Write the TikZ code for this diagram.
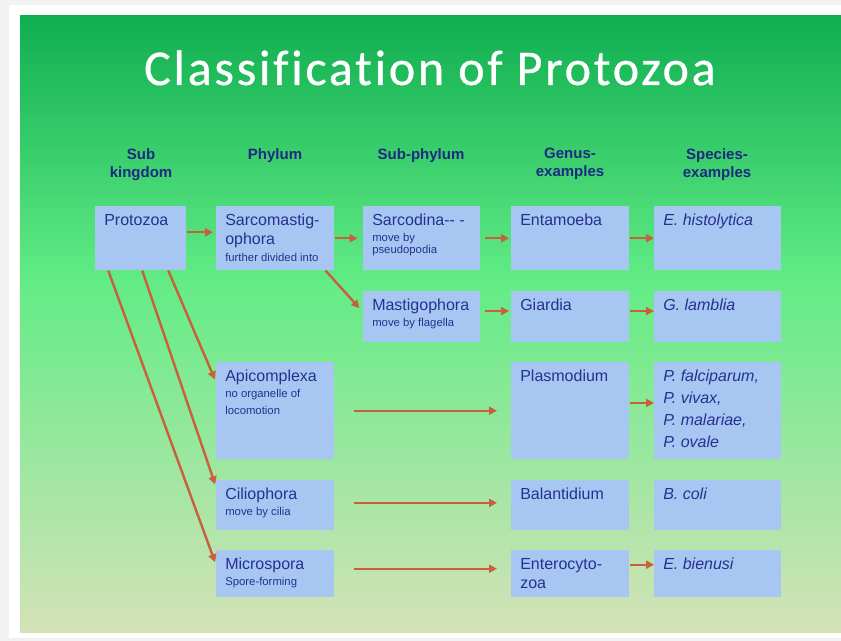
\documentclass[tikz,border=0pt]{standalone}
\usepackage{fontspec}
\setmainfont{Liberation Sans}
\newfontfamily\titlefont[LetterSpace=5.5, FakeBold=0.6, Ligatures=NoCommon]{Carlito}
\usetikzlibrary{arrows.meta}

\definecolor{cellblue}{HTML}{A8C6F2}
\definecolor{txtblue}{HTML}{26318F}
\definecolor{hdrblue}{HTML}{1C2A80}
\definecolor{arrred}{HTML}{C8603C}
\definecolor{topgreen}{HTML}{0FAE50}
\definecolor{midgreen}{HTML}{62EC86}
\definecolor{lowgreen}{HTML}{D4E2B8}

\newdimen\pxunit \pxunit=0.75pt
\newcommand{\cellbox}[3]{\parbox[t][#2\pxunit][t]{#1\pxunit}{\raggedright\fontsize{12}{14.5}\selectfont\rule{0pt}{19\pxunit}#3}}
\newcommand{\remark}[1]{\par{\fontsize{8.5}{12.5}\selectfont #1\par}}

\begin{document}
\begin{tikzpicture}[x=0.75pt, y=-0.75pt,
    cell/.style={fill=cellblue, anchor=north west, inner xsep=6.75pt, inner ysep=0pt, text=txtblue},
    head/.style={anchor=north, inner sep=0pt, align=center, text=hdrblue, font=\bfseries\fontsize{11.25}{13.5}\selectfont},
    arr/.style={draw=arrred, line width=1.8pt, -{Triangle[length=6pt, width=6pt]}}]
        \useasboundingbox (0,0) rectangle (841,641);
        % Background
        \fill[gray!10] (0,0) rectangle (841,641);
        \fill[white] (9,5) rectangle (841,638);
        \shade[top color=topgreen, bottom color=midgreen] (20,16) rectangle (841,281.5);
        \shade[top color=midgreen, bottom color=lowgreen] (20,281) rectangle (841,632);

        % Title and column heads
        \node[anchor=base, text=white, font=\titlefont\fontsize{37.5}{40}\selectfont] (title) at (430,85) {Classification of Protozoa};
        \node[head] (hsub) at (141,148) {Sub\\kingdom};
        \node[head] (hphy) at (275,148) {Phylum};
        \node[head] (hsubphy) at (421,148) {Sub-phylum};
        \node[head] (hgen) at (570,148) {Genus-\\examples};
        \node[head] (hspe) at (717,148) {Species-\\examples};

        % Nodes
        \node[cell] (proto) at (95,206) {\cellbox{73}{64}{Protozoa}};
        \node[cell] (sarcomast) at (216,206) {\cellbox{100}{64}{Sarcomastig-\\ophora\remark{further divided into}}};
        \node[cell] (sarcodina) at (363,206) {\cellbox{99}{64}{Sarcodina-{}- -\remark{move by\\[-3.5pt]pseudopodia}}};
        \node[cell] (entamoeba) at (511,206) {\cellbox{100}{64}{Entamoeba}};
        \node[cell] (histo) at (654,206) {\cellbox{109}{64}{\itshape E. histolytica}};

        \node[cell] (mastigo) at (363,291) {\cellbox{99}{51}{Mastigophora\remark{move by flagella}}};
        \node[cell] (giardia) at (511,291) {\cellbox{100}{51}{Giardia}};
        \node[cell] (lamblia) at (654,291) {\cellbox{109}{51}{\itshape G. lamblia}};

        \node[cell] (apicomp) at (216,362) {\cellbox{100}{97}{Apicomplexa\remark{no organelle of\\locomotion}}};
        \node[cell] (plasmo) at (511,362) {\cellbox{100}{97}{Plasmodium}};
        \node[cell] (falcip) at (654,362) {\cellbox{109}{97}{\itshape P. falciparum,\\[2pt]P. vivax,\\[2pt]P. malariae,\\[2pt]P. ovale}};

        \node[cell] (cilio) at (216,480) {\cellbox{100}{50}{Ciliophora\remark{move by cilia}}};
        \node[cell] (balant) at (511,480) {\cellbox{100}{50}{Balantidium}};
        \node[cell] (coli) at (654,480) {\cellbox{109}{50}{\itshape B. coli}};

        \node[cell] (micro) at (216,550) {\cellbox{100}{47}{Microspora\remark{Spore-forming}}};
        \node[cell] (entero) at (511,550) {\cellbox{100}{47}{Enterocyto-\\zoa}};
        \node[cell] (bienusi) at (654,550) {\cellbox{109}{47}{\itshape E. bienusi}};

        % Arrows along the rows
        \draw[arr, shorten >=2.25pt] ([yshift=4.5pt]proto.east) -- ([yshift=4.5pt]sarcomast.west);
        \draw[arr, shorten >=4pt] (sarcomast.east) -- (sarcodina.west);
        \draw[arr, shorten <=3pt, shorten >=1.5pt] (sarcodina.east) -- (entamoeba.west);
        \draw[arr] (entamoeba.east) -- (histo.west);
        \draw[arr, shorten <=3pt, shorten >=1.5pt] ([yshift=4.3pt]mastigo.east) -- ([yshift=4.3pt]giardia.west);
        \draw[arr] ([yshift=4.3pt]giardia.east) -- ([yshift=4.3pt]lamblia.west);
        \draw[arr, shorten <=14.25pt, shorten >=10.5pt] (apicomp.east) -- (plasmo.west);
        \draw[arr] ([yshift=5.9pt]plasmo.east) -- ([yshift=5.9pt]falcip.west);
        \draw[arr, shorten <=14.25pt, shorten >=10.5pt] ([yshift=1.8pt]cilio.east) -- ([yshift=1.8pt]balant.west);
        \draw[arr, shorten <=14.25pt, shorten >=10.5pt] ([yshift=3.8pt]micro.east) -- ([yshift=3.8pt]entero.west);
        \draw[arr] ([yshift=6.8pt]entero.east) -- ([yshift=6.8pt]bienusi.west);

        % Slanted arrows
        \draw[arr, shorten >=4pt] ([xshift=-6.75pt]sarcomast.south east) -- ([yshift=3.5pt]mastigo.west);
        \draw[arr, shorten >=2pt] ([xshift=20.6pt]proto.south) -- ([yshift=21.6pt]apicomp.west);
        \draw[arr, shorten >=2pt] ([xshift=1.1pt]proto.south) -- ([yshift=13.8pt]cilio.west);
        \draw[arr, shorten >=2pt] ([xshift=-24.4pt]proto.south) -- ([yshift=6.75pt]micro.west);
\end{tikzpicture}
\end{document}
